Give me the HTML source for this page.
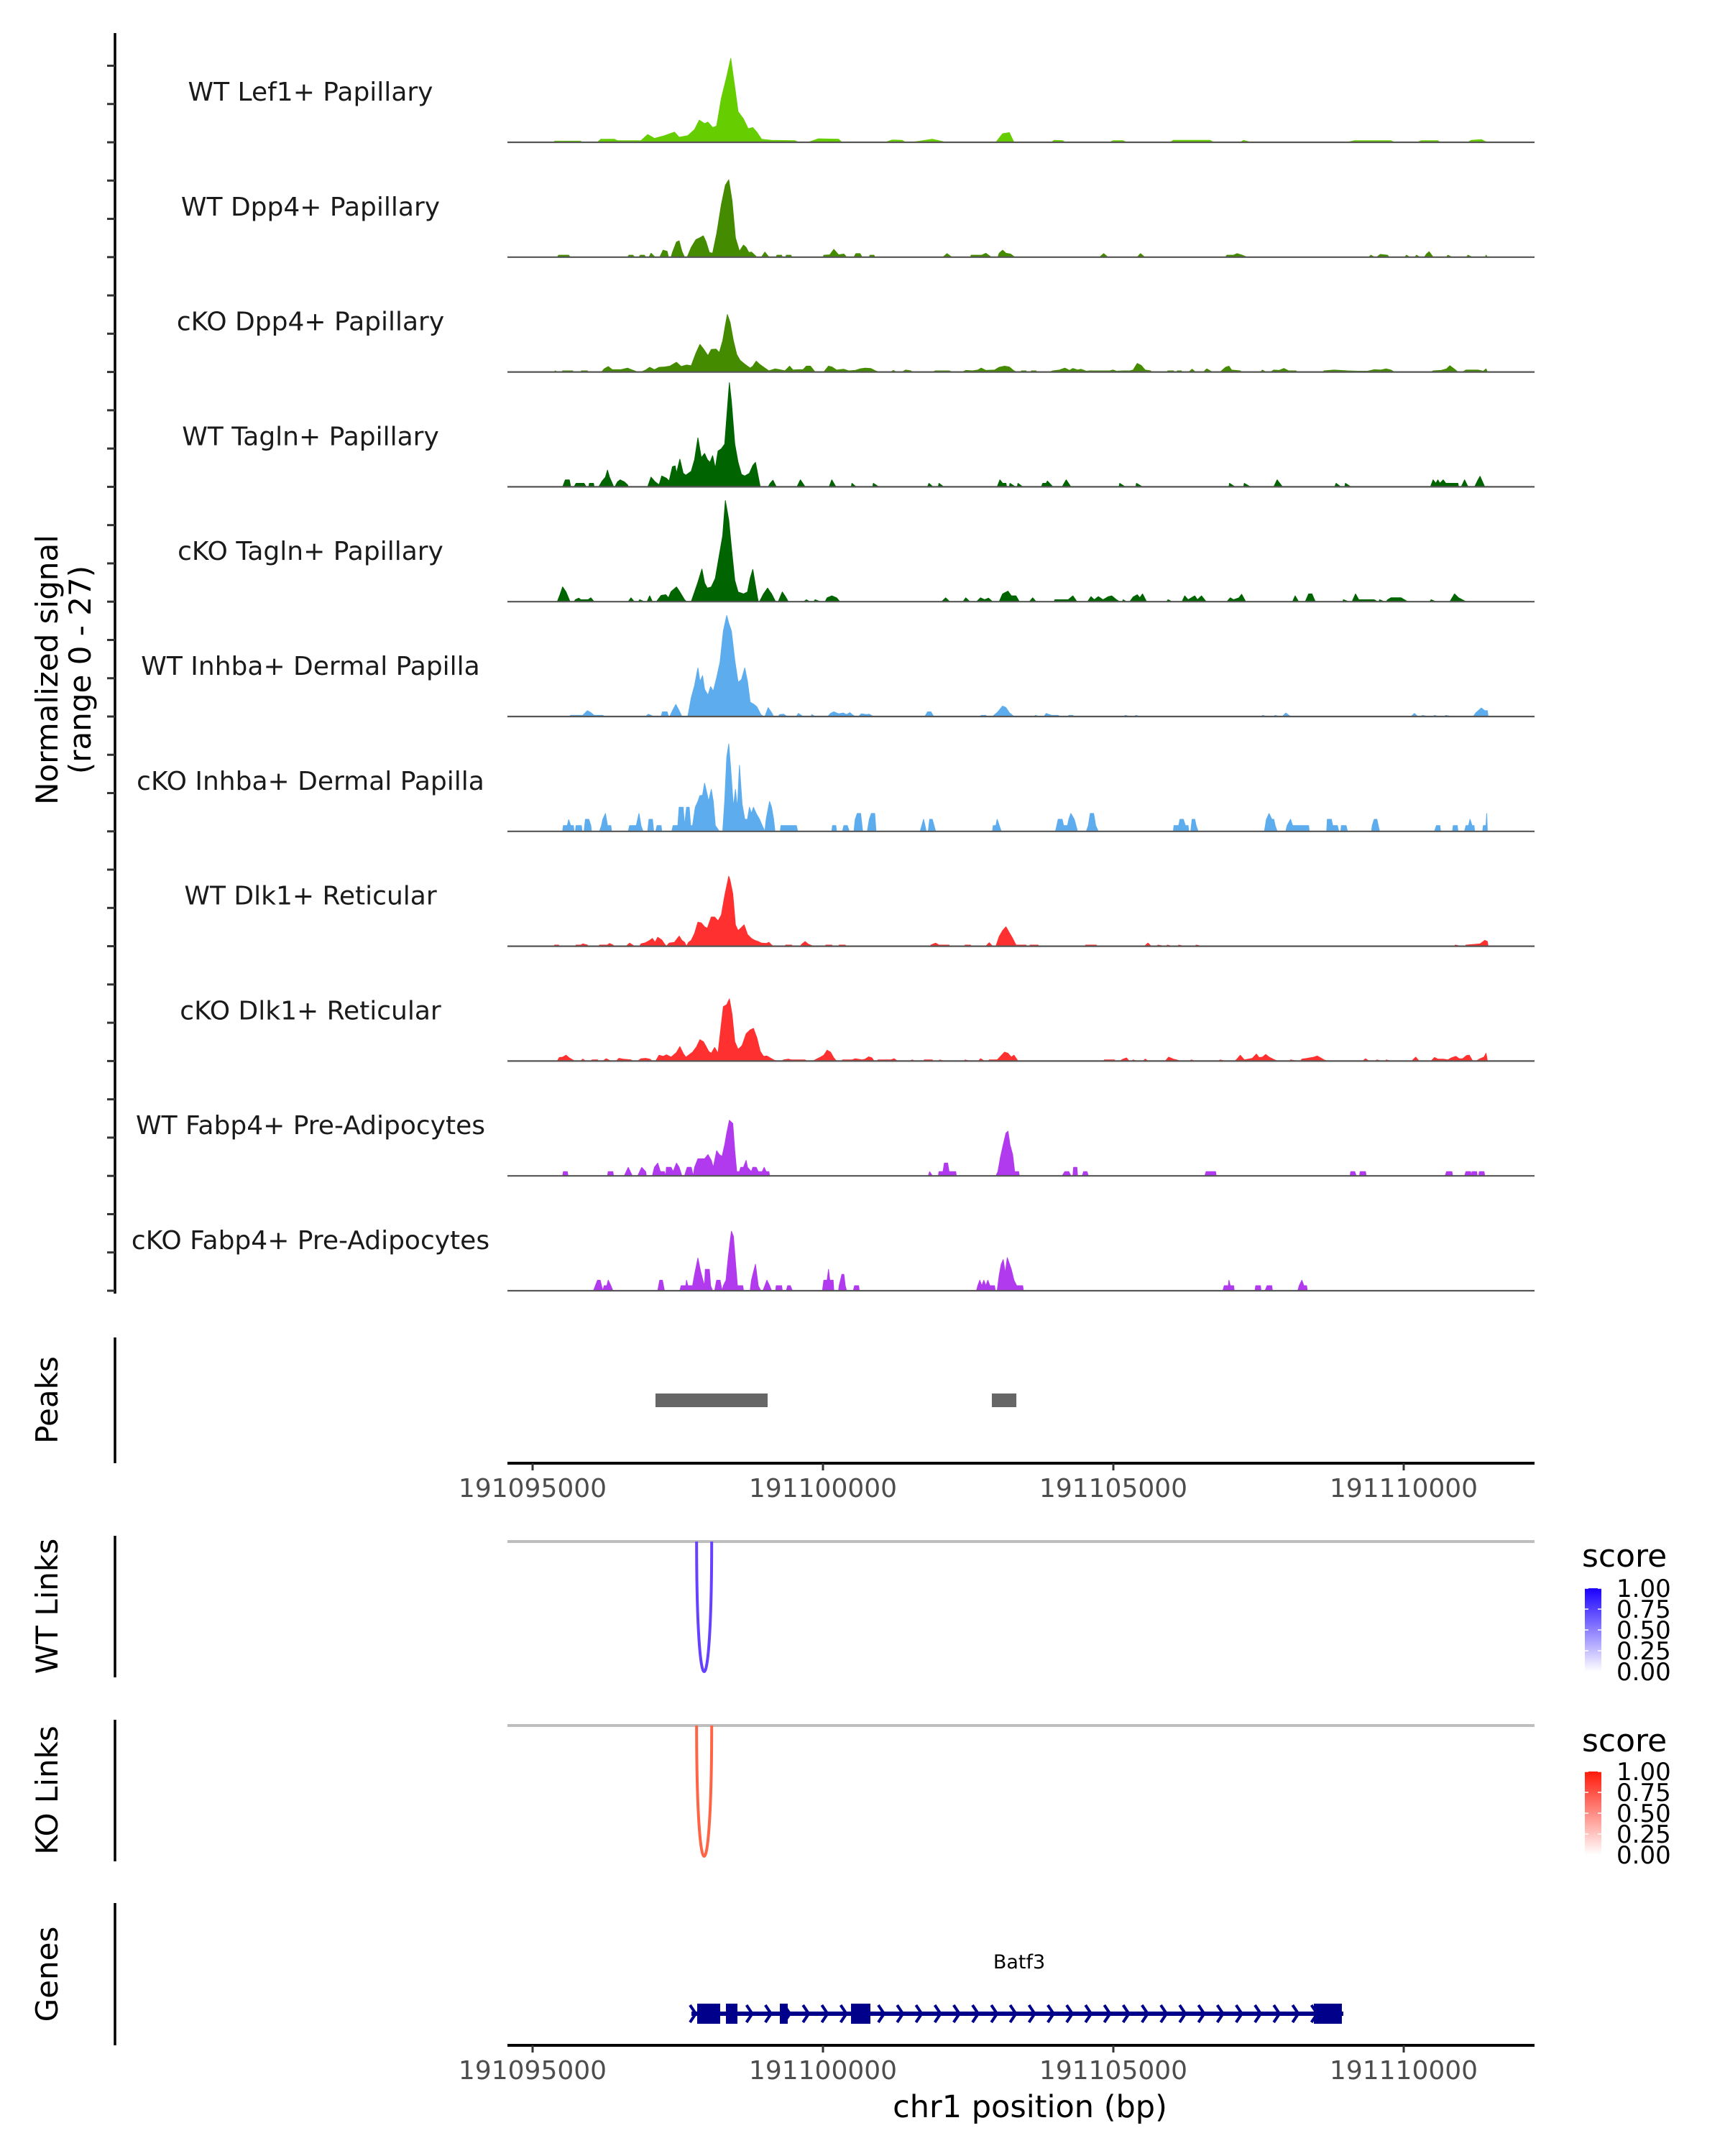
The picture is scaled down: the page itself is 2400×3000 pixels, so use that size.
<!DOCTYPE html>
<html><head><meta charset="utf-8"><title>Coverage plot - Batf3</title>
<style>
html,body{margin:0;padding:0;background:#fff;}
svg{display:block;font-family:"DejaVu Sans","Liberation Sans",sans-serif;}
</style></head>
<body>
<svg id="chart" xmlns="http://www.w3.org/2000/svg" width="2400" height="3000" viewBox="0 0 2400 3000">
<rect x="0" y="0" width="2400" height="3000" fill="#fff"/>
</svg>
<script>
// ---------- data ----------
const regionStart = 191094503;   // genomic start of coverage bins
const binSize = 11.53;           // bp per coverage bin
const signalMax = 27;
const trackLabels = ["WT Lef1+ Papillary","WT Dpp4+ Papillary","cKO Dpp4+ Papillary","WT Tagln+ Papillary","cKO Tagln+ Papillary","WT Inhba+ Dermal Papilla","cKO Inhba+ Dermal Papilla","WT Dlk1+ Reticular","cKO Dlk1+ Reticular","WT Fabp4+ Pre-Adipocytes","cKO Fabp4+ Pre-Adipocytes"];
const xTicks = [191095000,191100000,191105000,191110000];
const peaks = [[191097116,191099047],[191102908,191103330]];
const wtLinks = [[191097824,191098084,0.85]];
const koLinks = [[191097824,191098084,0.7]];
const legendTicks = [1.00,0.75,0.50,0.25,0.00];
const geneName = "Batf3";
const geneRange = [191097735,191108960];
const geneExons = [[191097834,191098230],[191098329,191098527],[191099257,191099393],[191100483,191100817],[191108453,191108935]];

// coverage: [bin index, normalized signal]
const covWTLef1 = [[75,0],[76,0.3],[115,0.3],[116,0],[140,0],[145,0.8],[165,0.8],[170,0.4],[205,0.4],[215,2.0],[225,1.0],[240,1.7],[255,2.6],[262,1.3],[275,1.7],[285,3.3],[292,5.7],[300,4.8],[305,5.2],[312,3.8],[318,4.2],[325,11.3],[333,16.9],[339,21.6],[345,14.2],[350,7.9],[358,6.0],[365,3.5],[372,3.8],[378,2.6],[385,0.8],[400,0.5],[435,0.4],[440,0],[455,0],[470,0.9],[500,0.8],[505,0],[570,0],[580,0.6],[595,0.5],[600,0],[610,0],[640,0.8],[655,0.2],[660,0],[735,0],[745,2.2],[755,2.5],[762,0],[818,0],[822,0.5],[835,0.4],[838,0],[905,0],[910,0.4],[925,0.4],[930,0],[995,0],[1000,0.5],[1030,0.5],[1055,0.5],[1060,0],[1100,0],[1105,0.5],[1115,0],[1260,0],[1270,0.4],[1325,0.4],[1330,0],[1365,0],[1370,0.4],[1395,0.4],[1398,0],[1440,0],[1445,0.5],[1460,0.7],[1468,0]];
const covWTDpp4 = [[80,0],[82,0.5],[97,0.5],[99,0],[185,0],[187,0.5],[193,0.5],[195,0],[202,0],[204,0.5],[210,0.5],[212,0],[217,0],[220,1.0],[226,0],[233,0],[238,1.8],[244,1.5],[246,0],[250,0],[252,1.2],[258,3.9],[262,4.2],[266,1.5],[270,0],[274,0],[280,2.5],[287,4.5],[293,5.0],[298,5.5],[302,4.0],[307,1.2],[312,1.0],[318,6.0],[325,13.5],[331,18.5],[336,19.9],[341,14.5],[346,5.0],[352,1.5],[358,3.1],[362,2.5],[366,1.2],[370,1.3],[375,0.5],[378,0],[385,0],[390,1.3],[396,0],[407,0],[408,0.5],[415,0.5],[416,0],[421,0],[422,0.5],[429,0.5],[430,0],[477,0],[478,0.5],[487,0.6],[493,2.0],[500,0.6],[508,0.8],[512,0],[523,0],[526,0.9],[532,0.9],[535,0],[546,0],[547,0.5],[553,0.5],[554,0],[656,0],[662,0.9],[669,0],[697,0],[698,0.5],[714,0.5],[720,1.0],[728,0],[738,0],[740,1.0],[745,1.8],[750,1.0],[757,0.8],[763,0],[890,0],[896,0.9],[902,0],[946,0],[951,0.9],[957,0],[1078,0],[1080,0.5],[1090,0.5],[1095,0.9],[1103,0.5],[1110,0],[1292,0],[1295,0.5],[1300,0],[1304,0],[1309,0.7],[1320,0.5],[1322,0],[1346,0],[1348,0.5],[1353,0],[1361,0],[1363,0.5],[1368,0],[1375,0],[1378,0.8],[1382,1.4],[1388,0],[1408,0],[1410,0.5],[1416,0],[1438,0],[1440,0.5],[1446,0],[1466,0],[1467,0.5],[1469,0]];
const covKODpp4 = [[75,0],[77,0.3],[80,0],[87,0],[88,0.3],[103,0.3],[104,0],[115,0],[116,0.3],[125,0.3],[126,0],[146,0],[150,0.8],[156,1.4],[162,0.6],[175,0.6],[185,1.0],[192,0.5],[200,0],[205,0],[212,0.5],[218,1.2],[225,0.6],[232,1.2],[240,1.3],[248,1.5],[258,2.5],[265,1.4],[273,1.8],[280,1.6],[287,4.8],[293,7.1],[298,6.0],[305,4.2],[310,5.8],[317,5.9],[322,5.0],[327,8.0],[331,12.0],[334,14.8],[338,12.8],[343,8.0],[348,4.5],[353,3.0],[360,2.0],[368,1.0],[372,1.5],[377,2.8],[382,2.0],[390,1.0],[396,0.3],[405,0.8],[412,0.6],[420,0.3],[427,1.5],[432,0.5],[440,0.6],[447,0.6],[452,1.5],[458,1.5],[465,0],[478,0],[485,1.5],[490,1.3],[497,0.5],[508,0.7],[515,0.3],[525,0.4],[532,0.8],[540,1.0],[548,0.9],[555,0.3],[560,0],[578,0],[582,0.4],[586,0],[595,0],[600,0.5],[608,0.3],[610,0],[640,0],[645,0.3],[665,0.3],[670,0],[685,0],[690,0.4],[700,0.3],[708,0.5],[713,1.0],[720,0.4],[733,0.5],[740,1.2],[748,1.5],[755,1.3],[762,0.3],[766,0],[772,0],[773,0.3],[780,0.3],[781,0],[787,0],[788,0.3],[795,0.3],[796,0],[815,0],[820,0.3],[830,0.5],[838,1.0],[845,0.4],[850,0.9],[857,0.5],[862,0.7],[870,0.2],[875,0.3],[905,0.3],[910,0.5],[915,0.2],[925,0.3],[935,0.3],[940,0.5],[946,2.2],[952,1.7],[958,0.5],[966,0.3],[968,0],[990,0],[992,0.3],[1000,0.3],[1002,0],[1005,0],[1006,0.3],[1012,0.3],[1013,0],[1023,0],[1028,0.7],[1033,0],[1045,0],[1050,0.8],[1058,0],[1070,0],[1078,1.2],[1083,1.5],[1087,0.5],[1100,0.3],[1102,0],[1130,0],[1133,0.5],[1138,0],[1145,0],[1150,0.5],[1158,0.4],[1165,0.9],[1172,0.3],[1183,0.3],[1185,0],[1223,0],[1225,0.3],[1240,0.5],[1260,0.3],[1275,0.2],[1290,0.2],[1300,0.6],[1310,0.5],[1318,0.8],[1325,0.5],[1330,0],[1385,0],[1388,0.3],[1400,0.4],[1408,0.8],[1413,1.6],[1420,0.7],[1425,0],[1432,0],[1437,0.5],[1455,0.5],[1463,0.2],[1467,0.8],[1469,0]];
const covWTTagln = [[88,0],[92,1.8],[98,1.8],[100,0],[105,0],[108,0.9],[120,0.9],[123,0],[127,0],[128,0.9],[134,0.9],[135,0],[142,0],[147,1.5],[152,2.5],[155,4.3],[158,2.5],[163,0.5],[164,0],[166,0],[170,1.3],[174,1.8],[180,1.3],[185,0.5],[186,0],[215,0],[220,2.5],[226,1.3],[232,0.5],[236,2.8],[243,2.2],[247,1.5],[252,5.2],[256,5.4],[258,3.5],[263,7.1],[268,3.5],[272,3.0],[280,4.0],[285,7.0],[290,12.6],[295,7.5],[300,8.6],[304,7.0],[308,6.3],[312,8.0],[316,4.8],[320,9.2],[325,9.8],[330,11.0],[334,20.0],[337,26.8],[340,22.0],[345,11.0],[350,6.3],[355,3.2],[360,2.8],[367,3.5],[372,5.5],[376,6.3],[383,0],[395,0],[398,0.9],[402,1.7],[407,0],[438,0],[443,1.8],[450,0],[486,0],[490,1.8],[496,0],[519,0],[520,0.9],[526,0],[551,0],[552,0.9],[560,0],[633,0],[635,0.9],[641,0],[649,0],[650,0.9],[657,0],[737,0],[741,1.8],[745,0.9],[750,0.9],[751,0],[755,0],[756,0.9],[764,0],[767,0],[768,0.9],[775,0],[803,0],[805,0.9],[810,0.9],[812,1.5],[820,0],[834,0],[840,1.8],[847,0],[919,0],[920,0.9],[928,0],[944,0],[945,0.9],[954,0],[1083,0],[1084,0.9],[1092,0],[1105,0],[1106,0.9],[1115,0],[1150,0],[1155,1.8],[1163,0],[1241,0],[1243,0.9],[1250,0],[1256,0],[1257,0.9],[1265,0],[1384,0],[1388,1.8],[1392,0.9],[1395,1.8],[1398,0.9],[1403,1.8],[1407,0.9],[1425,0.9],[1426,0],[1430,0],[1435,1.8],[1440,0],[1450,0],[1455,1.8],[1458,2.7],[1465,0]];
const covKOTagln = [[80,0],[84,1.8],[88,3.8],[93,2.5],[99,0],[105,0],[107,0.5],[112,0.9],[115,0.5],[126,0.5],[130,1.0],[135,0],[186,0],[190,1.0],[195,0],[201,0],[203,0.5],[210,0],[214,0],[218,1.5],[222,0],[228,0],[235,1.6],[242,1.8],[246,1.0],[250,2.6],[258,3.8],[263,2.5],[270,0.5],[273,0],[280,0],[285,2.5],[290,5.0],[296,8.4],[300,4.8],[304,3.5],[310,3.8],[316,6.0],[322,12.0],[327,17.0],[331,26.0],[336,21.0],[340,14.0],[345,5.5],[350,2.5],[358,2.0],[364,2.5],[368,6.0],[372,8.3],[377,3.0],[380,0],[382,0],[388,2.0],[394,3.5],[400,2.0],[406,0],[410,0],[416,2.5],[420,1.5],[425,0],[448,0],[452,0.5],[457,0],[463,0],[465,0.5],[473,0],[480,0],[483,1.0],[490,1.5],[497,1.0],[502,0],[654,0],[660,1.0],[666,0],[686,0],[690,1.0],[696,0],[706,0],[712,1.0],[718,0.5],[724,0.9],[730,0],[740,0],[745,2.0],[753,2.7],[758,1.5],[765,1.5],[770,0],[785,0],[790,1.0],[795,0],[822,0],[823,0.5],[843,0.5],[850,1.5],[856,0],[872,0],[877,1.3],[882,0.5],[888,1.3],[895,0.5],[903,1.3],[908,1.5],[915,0.5],[920,0],[924,0],[925,0.5],[930,0],[935,0],[940,1.2],[946,1.8],[950,1.0],[954,2.0],[960,0],[990,0],[992,0.5],[998,0],[1013,0],[1017,1.5],[1022,0.5],[1032,1.5],[1036,0.5],[1042,1.5],[1049,0],[1080,0],[1085,1.0],[1090,0.5],[1098,1.0],[1102,1.9],[1108,0],[1178,0],[1182,1.5],[1187,0],[1197,0],[1202,2.0],[1207,2.0],[1212,0],[1253,0],[1254,0.5],[1262,0],[1267,0],[1272,2.0],[1277,0.5],[1300,0.5],[1305,0],[1307,0],[1308,0.5],[1315,0],[1318,0],[1320,0.5],[1325,1.0],[1340,1.0],[1350,0],[1383,0],[1385,0.5],[1392,0],[1413,0],[1420,2.0],[1426,1.0],[1437,0]];
const covWTInhba = [[98,0],[100,0.3],[118,0.3],[125,1.5],[130,1.0],[135,0.3],[148,0.3],[150,0],[212,0],[216,0.6],[224,0],[235,0],[237,1.2],[244,1.2],[246,0],[248,0],[252,1.5],[257,3.1],[262,1.5],[266,0],[275,0],[280,4.8],[285,8.0],[290,12.5],[293,9.0],[297,10.5],[300,7.0],[305,5.5],[309,7.7],[313,6.5],[318,10.0],[323,14.0],[328,22.0],[333,26.0],[336,24.0],[340,22.0],[345,14.5],[350,8.8],[355,9.5],[360,12.5],[364,9.0],[368,3.7],[373,3.2],[378,2.5],[384,0.5],[388,0],[390,0],[395,2.3],[400,1.0],[403,0],[410,0],[412,0.5],[418,0.6],[423,0],[437,0],[440,0.8],[447,0],[459,0],[460,0.5],[465,0],[484,0],[488,0.8],[493,1.2],[500,0.7],[507,0.9],[512,0.5],[517,1.0],[521,0.4],[525,0],[530,0],[534,0.7],[542,0.5],[546,0.6],[552,0],[629,0],[633,1.2],[638,1.2],[642,0],[712,0],[713,0.3],[720,0.3],[721,0],[730,0],[738,1.2],[745,2.7],[750,2.3],[755,1.0],[762,0],[792,0],[794,0.3],[799,0],[807,0],[810,0.8],[818,0.3],[828,0.3],[830,0],[843,0],[844,0.3],[850,0.3],[851,0],[927,0],[928,0.3],[935,0],[942,0],[944,0.3],[950,0],[1132,0],[1133,0.3],[1140,0],[1150,0],[1152,0.3],[1158,0],[1163,0],[1168,0.9],[1175,0],[1355,0],[1360,0.8],[1365,0],[1370,0],[1372,0.3],[1380,0],[1388,0],[1390,0.3],[1396,0],[1405,0],[1407,0.3],[1415,0],[1448,0],[1452,1.0],[1460,2.2],[1465,1.5],[1469,1.5],[1470,0]];
const covKOInhba = [[88,0],[89,1.5],[95,1.5],[97,3.0],[100,1.5],[104,1.5],[105,0],[107,0],[108,1.5],[116,1.5],[117,0],[120,0],[122,3.1],[127,3.1],[130,1.5],[131,0],[143,0],[146,1.5],[148,3.1],[152,4.6],[155,1.5],[160,1.5],[161,0],[186,0],[188,1.5],[198,1.5],[202,4.6],[205,1.5],[208,0],[215,0],[217,3.1],[222,3.1],[224,0],[227,0],[229,1.5],[235,1.5],[236,0],[251,0],[253,1.5],[260,1.5],[262,6.2],[268,6.2],[270,1.5],[273,6.2],[277,6.2],[279,1.5],[282,1.5],[286,6.2],[290,7.7],[293,9.2],[297,9.3],[300,12.4],[304,9.3],[306,7.7],[310,10.8],[313,7.7],[316,1.5],[322,0],[327,0],[330,7.7],[333,19.0],[336,22.5],[339,16.0],[343,6.2],[346,10.8],[349,6.0],[352,17.0],[356,7.0],[360,3.1],[364,3.1],[367,6.2],[370,4.6],[373,6.2],[377,4.6],[382,3.1],[386,1.5],[390,0],[392,3.1],[397,7.7],[400,6.2],[403,3.1],[405,0],[413,0],[414,1.5],[437,1.5],[439,0],[490,0],[491,1.5],[496,1.5],[497,0],[506,0],[508,1.5],[513,1.5],[516,0],[523,0],[525,3.1],[528,4.6],[533,4.6],[536,0],[543,0],[546,3.1],[549,4.6],[554,4.6],[556,0],[622,0],[627,3.1],[631,0],[634,0],[636,3.1],[640,3.1],[645,0],[730,0],[731,1.5],[735,1.5],[737,3.1],[740,1.5],[743,0],[824,0],[826,1.5],[828,3.1],[834,3.1],[836,1.5],[842,1.5],[844,3.1],[847,4.6],[852,3.1],[857,0],[870,0],[873,1.5],[876,4.6],[881,4.6],[884,1.5],[888,0],[1000,0],[1001,1.5],[1008,1.5],[1010,3.1],[1015,3.1],[1018,1.5],[1022,1.5],[1023,0],[1026,0],[1028,3.1],[1032,3.1],[1034,1.5],[1037,0],[1136,0],[1139,3.1],[1143,4.6],[1147,3.1],[1150,3.1],[1152,1.5],[1155,0],[1168,0],[1170,1.5],[1175,3.1],[1178,1.5],[1185,1.5],[1202,1.5],[1203,0],[1229,0],[1230,3.1],[1236,3.1],[1238,1.5],[1245,1.5],[1247,0],[1250,0],[1251,1.5],[1258,1.5],[1260,0],[1296,0],[1297,1.5],[1300,3.1],[1304,3.1],[1306,1.5],[1308,0],[1390,0],[1393,1.5],[1398,1.5],[1399,0],[1417,0],[1418,1.5],[1424,1.5],[1425,0],[1435,0],[1437,1.5],[1441,1.5],[1443,3.1],[1446,1.5],[1449,1.5],[1450,0],[1462,0],[1463,1.5],[1467,1.5],[1468,4.6],[1469,0]];
const covWTDlk1 = [[75,0],[76,0.3],[82,0.3],[83,0],[107,0],[108,0.3],[115,0.3],[118,0.6],[125,0.3],[126,0],[142,0],[143,0.3],[155,0.3],[158,0.7],[163,0.3],[165,0],[183,0],[188,0.8],[195,0],[203,0],[205,0.6],[212,0.9],[218,1.5],[222,2.0],[226,1.0],[230,2.3],[236,1.6],[240,0.6],[243,0],[247,0.8],[255,1.0],[262,2.6],[266,1.5],[270,1.0],[273,0],[276,1.0],[280,1.5],[285,3.3],[290,6.2],[295,6.0],[300,5.0],[304,4.6],[310,7.5],[315,7.5],[320,6.5],[325,8.0],[330,13.0],[336,18.0],[338,17.0],[342,13.5],[346,5.5],[350,4.0],[355,4.8],[359,5.5],[364,3.0],[370,2.0],[375,1.5],[380,1.2],[385,0.8],[392,0.7],[396,1.0],[400,0.3],[403,0],[420,0],[421,0.3],[430,0.3],[431,0],[443,0],[445,0.5],[450,1.2],[455,0.5],[462,0],[480,0],[481,0.3],[490,0.3],[491,0],[500,0],[501,0.3],[510,0.3],[511,0],[637,0],[638,0.3],[645,0.8],[650,0.3],[665,0.3],[666,0],[688,0],[689,0.3],[697,0.3],[698,0],[720,0],[725,0.9],[730,0],[735,0],[740,2.5],[745,4.0],[750,5.0],[755,3.5],[760,2.0],[765,0.3],[780,0.3],[781,0],[785,0],[786,0.3],[798,0.3],[799,0],[868,0],[869,0.3],[885,0.3],[886,0],[957,0],[962,0.8],[967,0],[976,0],[977,0.3],[987,0],[990,0],[991,0.3],[998,0],[1007,0],[1008,0.3],[1016,0],[1033,0],[1034,0.3],[1043,0],[1420,0],[1421,0.3],[1430,0],[1436,0],[1437,0.3],[1452,0.5],[1458,0.6],[1465,1.5],[1469,1.2],[1470,0]];
const covKODlk1 = [[80,0],[83,0.9],[88,1.0],[93,1.5],[98,0.8],[103,0.3],[106,0],[115,0],[118,0.5],[122,0],[130,0],[132,0.3],[140,0.3],[141,0],[148,0],[153,0.6],[160,0],[168,0],[172,0.7],[178,0.5],[190,0.3],[193,0],[200,0],[205,0.6],[212,0.7],[218,0.5],[222,0],[227,0],[232,1.5],[238,1.2],[243,1.6],[250,1.0],[258,2.2],[263,3.7],[268,2.0],[272,1.0],[276,1.5],[282,2.3],[288,3.7],[293,5.5],[298,5.0],[302,3.8],[306,2.5],[310,2.0],[315,3.5],[320,2.0],[324,8.0],[328,14.0],[333,14.5],[337,16.0],[341,12.0],[345,5.0],[350,3.0],[356,4.0],[362,7.0],[368,8.0],[373,8.4],[378,6.0],[383,2.5],[388,1.2],[393,1.3],[398,0.8],[403,0.3],[408,0],[415,0],[418,0.3],[425,0.5],[430,0.3],[450,0.3],[452,0],[462,0],[465,0.3],[472,0.9],[478,1.5],[483,2.8],[488,2.3],[493,0.8],[497,0],[505,0],[506,0.3],[520,0.3],[525,0.6],[535,0.3],[540,0.5],[545,1.1],[550,0.8],[553,0],[558,0],[559,0.3],[578,0.3],[583,0.6],[588,0],[606,0],[610,0.3],[614,0],[627,0],[628,0.3],[640,0.3],[641,0],[650,0],[651,0.3],[658,0],[688,0],[689,0.3],[696,0],[709,0],[712,0.6],[718,0],[724,0],[725,0.3],[737,0.3],[742,1.2],[748,2.3],[753,2.0],[758,1.0],[762,1.5],[768,0],[896,0],[897,0.3],[912,0.3],[913,0],[920,0],[925,0.5],[930,0.8],[934,0],[938,0],[940,0.3],[945,0],[955,0],[958,0.5],[962,0],[988,0],[993,1.0],[1000,0.5],[1005,0.3],[1010,0],[1024,0],[1027,0.3],[1032,0],[1068,0],[1070,0.3],[1077,0],[1092,0],[1095,0.5],[1100,1.5],[1106,0.3],[1112,0.5],[1118,0.7],[1124,1.8],[1128,0.9],[1133,1.0],[1138,1.7],[1143,1.0],[1150,0.4],[1155,0],[1174,0],[1175,0.3],[1185,0],[1190,0],[1192,0.5],[1200,0.7],[1210,1.0],[1215,1.3],[1220,0.8],[1225,0.3],[1230,0],[1283,0],[1287,0.6],[1292,0],[1302,0],[1304,0.3],[1310,0],[1317,0],[1318,0.3],[1325,0],[1356,0],[1362,1.0],[1367,0],[1385,0],[1390,0.9],[1395,0.5],[1403,0.5],[1410,0.3],[1415,0.8],[1422,1.2],[1427,0.6],[1432,0.6],[1438,1.4],[1442,1.5],[1447,0],[1452,0],[1458,0.6],[1464,1.0],[1467,2.0],[1469,0]];
const covWTFabp4 = [[88,0],[89,1.1],[95,1.1],[96,0],[155,0],[156,1.1],[163,1.1],[164,0],[180,0],[186,2.2],[192,0],[200,0],[206,2.2],[212,1.1],[213,0],[222,0],[225,2.2],[230,3.3],[234,1.1],[240,1.1],[242,0],[243,2.2],[250,2.2],[253,1.1],[258,3.3],[262,2.2],[266,0],[270,0],[274,2.2],[280,2.2],[283,0],[285,2.2],[290,4.4],[295,4.4],[300,4.4],[305,5.5],[310,4.0],[313,2.2],[318,6.5],[322,5.5],[326,5.0],[330,8.0],[333,11.0],[337,14.3],[342,13.5],[345,6.5],[348,1.1],[352,1.1],[354,2.2],[358,2.2],[362,4.0],[364,2.2],[370,1.1],[372,2.2],[377,2.2],[380,1.1],[386,1.1],[389,2.2],[392,1.1],[396,1.1],[397,0],[634,0],[636,1.1],[640,0],[649,0],[650,1.1],[656,1.1],[658,3.3],[663,3.3],[665,1.1],[675,1.1],[676,0],[735,0],[738,1.1],[742,5.0],[746,8.0],[750,11.0],[753,11.5],[756,8.0],[760,5.5],[763,1.1],[769,1.1],[770,0],[834,0],[838,1.1],[844,1.1],[847,0],[850,0],[851,2.2],[856,2.2],[857,0],[864,0],[866,1.1],[871,1.1],[873,0],[1047,0],[1049,1.1],[1063,1.1],[1064,0],[1264,0],[1265,1.1],[1271,1.1],[1273,0],[1278,0],[1279,1.1],[1287,1.1],[1288,0],[1406,0],[1408,1.1],[1416,1.1],[1417,0],[1435,0],[1437,1.1],[1444,1.1],[1445,0],[1446,1.1],[1453,1.1],[1454,0],[1456,0],[1457,1.1],[1464,1.1],[1465,0]];
const covKOFabp4 = [[134,0],[140,2.7],[144,2.7],[146,1.3],[148,0],[150,1.3],[154,1.3],[156,2.7],[160,1.3],[163,0],[230,0],[233,2.7],[237,2.7],[240,0],[263,0],[265,1.3],[272,1.3],[273,2.7],[275,1.3],[282,1.3],[285,4.2],[290,8.4],[294,5.0],[297,3.0],[300,1.3],[301,5.5],[307,5.5],[309,1.3],[312,0],[315,0],[318,2.7],[323,2.7],[326,0],[328,1.3],[332,2.7],[335,8.0],[338,12.5],[340,15.3],[343,14.0],[347,5.5],[349,1.3],[357,1.3],[358,0],[368,0],[370,2.7],[374,5.5],[376,6.8],[380,1.3],[384,0],[387,0],[390,1.3],[393,2.7],[397,1.3],[400,0],[406,0],[407,1.3],[415,1.3],[416,0],[422,0],[424,1.3],[428,1.3],[431,0],[476,0],[478,2.7],[483,2.7],[485,5.5],[487,2.7],[492,2.7],[493,0],[500,0],[501,1.3],[505,4.2],[508,4.2],[510,1.3],[512,0],[522,0],[524,1.3],[530,1.3],[531,0],[706,0],[708,1.3],[711,2.7],[714,1.3],[717,2.7],[720,1.3],[723,2.7],[726,1.3],[733,1.3],[734,0],[737,0],[740,4.0],[743,6.8],[746,8.0],[749,4.5],[752,8.5],[755,7.0],[758,5.5],[762,2.7],[766,1.3],[775,1.3],[776,0],[1074,0],[1076,1.3],[1082,1.3],[1083,2.7],[1085,1.3],[1090,1.3],[1091,0],[1122,0],[1123,1.3],[1130,1.3],[1131,0],[1137,0],[1140,1.3],[1147,1.3],[1148,0],[1186,0],[1188,1.3],[1192,2.7],[1195,1.3],[1199,1.3],[1200,0]];

const coverage = [covWTLef1,covWTDpp4,covKODpp4,covWTTagln,covKOTagln,covWTInhba,covKOInhba,covWTDlk1,covKODlk1,covWTFabp4,covKOFabp4];
const trackColors = ["#66cd00","#458b00","#458b00","#006400","#006400","#5cacee","#5cacee","#ff3030","#ff3030","#b23aee","#b23aee"];

// ---------- layout / scales ----------
const NS = "http://www.w3.org/2000/svg";
const svg = document.getElementById("chart");
const plotL = 706, plotR = 2135;
const firstBase = 198, trackStep = 159.8, trackH = 146;
function xScale(bp){ return 741 + (bp - 191095000) * 0.0808; }
function binToBp(b){ return regionStart + b * binSize; }
function yScale(v, base){ return base - v / signalMax * trackH; }
function mk(tag, attrs, parent){
  const e = document.createElementNS(NS, tag);
  for (const k in attrs) e.setAttribute(k, attrs[k]);
  (parent || svg).appendChild(e);
  return e;
}
function txt(str, attrs, parent){ const t = mk("text", attrs, parent); t.textContent = str; return t; }

// left axis for coverage tracks
let el = mk("line", {x1:160, y1:46, x2:160, y2:1800, stroke:"#000", "stroke-width":3.5});


for (let i = 0; i < trackLabels.length; i++) {
  const base = firstBase + i * trackStep;
  for (let k = 0; k < 3; k++) {
    const y = base - k * trackStep / 3;
    const t = mk("line", {x1:149, y1:y, x2:160, y2:y, stroke:"#333", "stroke-width":3});
    
    
  }
}
const yt = txt("", {transform:"translate(80,932) rotate(-90)", "text-anchor":"middle", "font-size":42, fill:"#000"});


const ts1 = mk("tspan", {x:0, y:0}, yt); ts1.textContent = "Normalized signal";
const ts2 = mk("tspan", {x:0, y:46}, yt); ts2.textContent = "(range 0 - 27)";

// coverage tracks
for (let i = 0; i < coverage.length; i++) {
  const base = firstBase + i * trackStep;
  const g = mk("g", {});
  
  
  const pts = coverage[i];
  let d = "M" + xScale(binToBp(pts[0][0])).toFixed(1) + "," + base;
  for (const p of pts) d += " L" + xScale(binToBp(p[0])).toFixed(1) + "," + yScale(p[1], base).toFixed(1);
  d += " L" + xScale(binToBp(pts[pts.length-1][0])).toFixed(1) + "," + base + " Z";
  const a = mk("path", {d:d, fill:trackColors[i], stroke:trackColors[i], "stroke-width":1, "stroke-linejoin":"round"}, g);
  
  
  const bl = mk("line", {x1:plotL, y1:base, x2:plotR, y2:base, stroke:"#555", "stroke-width":2.2}, g);
  
  
  const lb = txt(trackLabels[i], {x:432, y:base - 58, "text-anchor":"middle", "font-size":36, fill:"#1a1a1a"}, g);
  
  
}

// side axis panels
function panelAxis(y1, y2, label, cy, name){
  const l = mk("line", {x1:160, y1:y1, x2:160, y2:y2, stroke:"#000", "stroke-width":3.5});
  
  
  const t = txt(label, {transform:"translate(80," + cy + ") rotate(-90)", "text-anchor":"middle", "font-size":42, fill:"#000"});
  
  
}
panelAxis(1861, 2036, "Peaks", 1948, "peaks");
panelAxis(2137, 2334, "WT Links", 2235, "wt-links");
panelAxis(2393, 2590, "KO Links", 2491, "ko-links");
panelAxis(2648, 2846, "Genes", 2747, "genes");

// peaks
for (const p of peaks) {
  const r = mk("rect", {x:xScale(p[0]), y:1939, width:xScale(p[1]) - xScale(p[0]), height:19, fill:"#666"});
  
  
}

// x axes
function xAxis(y, name){
  const l = mk("line", {x1:plotL, y1:y, x2:plotR, y2:y, stroke:"#000", "stroke-width":4});
  
  
  for (const t of xTicks) {
    const x = xScale(t);
    const tk = mk("line", {x1:x, y1:y, x2:x, y2:y + 10, stroke:"#333", "stroke-width":3});
    
    
    const tl = txt(String(t), {x:x, y:y + 47, "text-anchor":"middle", "font-size":36, fill:"#4d4d4d"});
    
    
  }
}
xAxis(2036, "peaks-x-axis");
xAxis(2846, "genes-x-axis");
const xt = txt("chr1 position (bp)", {x:1433, y:2946, "text-anchor":"middle", "font-size":43, fill:"#000"});



// links
function linkPanel(links, base, depth, color, name){
  const gl = mk("line", {x1:plotL, y1:base, x2:plotR, y2:base, stroke:"#bebebe", "stroke-width":4});
  
  
  for (const lk of links) {
    const x1 = xScale(lk[0]), x2 = xScale(lk[1]);
    const cy = base + depth * 4 / 3;
    const p = mk("path", {d:"M" + x1 + "," + base + " C" + x1 + "," + cy + " " + x2 + "," + cy + " " + x2 + "," + base, fill:"none", stroke:color, "stroke-width":4});
    
    
  }
}
linkPanel(wtLinks, 2145, 181, "#6641ff", "wt-link");
linkPanel(koLinks, 2401, 182, "#ff6446", "ko-link");

// legends
const defs = mk("defs", {});
function grad(id, c){
  const g = mk("linearGradient", {id:id, x1:0, y1:1, x2:0, y2:0}, defs);
  mk("stop", {offset:0, "stop-color":"#fff"}, g);
  mk("stop", {offset:1, "stop-color":c}, g);
}
grad("gwt", "#1a00ff");
grad("gko", "#ff1a0a");
function legend(titleY, barTop, gid, name){
  const g = mk("g", {});
  
  
  const t = txt("score", {x:2201, y:titleY, "font-size":44, fill:"#000"}, g);
  
  
  const h = 116;
  const r = mk("rect", {x:2205, y:barTop, width:23, height:h, fill:"url(#" + gid + ")"}, g);
  
  
  for (const v of legendTicks) {
    const y = barTop + h - v * h;
    mk("line", {x1:2205, y1:y, x2:2210, y2:y, stroke:"#fff", "stroke-width":1.5}, g);
    mk("line", {x1:2223, y1:y, x2:2228, y2:y, stroke:"#fff", "stroke-width":1.5}, g);
    const lt = txt(v.toFixed(2), {x:2249, y:y + 12, "font-size":34, fill:"#000"}, g);
    
    
  }
}
legend(2180, 2210, "gwt", "wt-score-legend");
legend(2437, 2465, "gko", "ko-score-legend");

// gene
const gg = mk("g", {});


const gy = 2802;
const gx1 = xScale(geneRange[0]), gx2 = xScale(geneRange[1]);
const gline = mk("line", {x1:gx1, y1:gy, x2:gx2, y2:gy, stroke:"#00008b", "stroke-width":6}, gg);


for (let x = gx1 + 2; x < gx2 - 4; x += 26.2) {
  const c = mk("polyline", {points:(x-4) + "," + (gy-12) + " " + (x+4) + "," + gy + " " + (x-4) + "," + (gy+12), fill:"none", stroke:"#00008b", "stroke-width":4}, gg);
  
  
}
for (const e of geneExons) {
  const r = mk("rect", {x:xScale(e[0]), y:gy - 14, width:xScale(e[1]) - xScale(e[0]), height:28, fill:"#00008b"}, gg);
  
  
}
const gn = txt(geneName, {x:1418, y:2739, "text-anchor":"middle", "font-size":27, fill:"#000"}, gg);


</script>
</body></html>
